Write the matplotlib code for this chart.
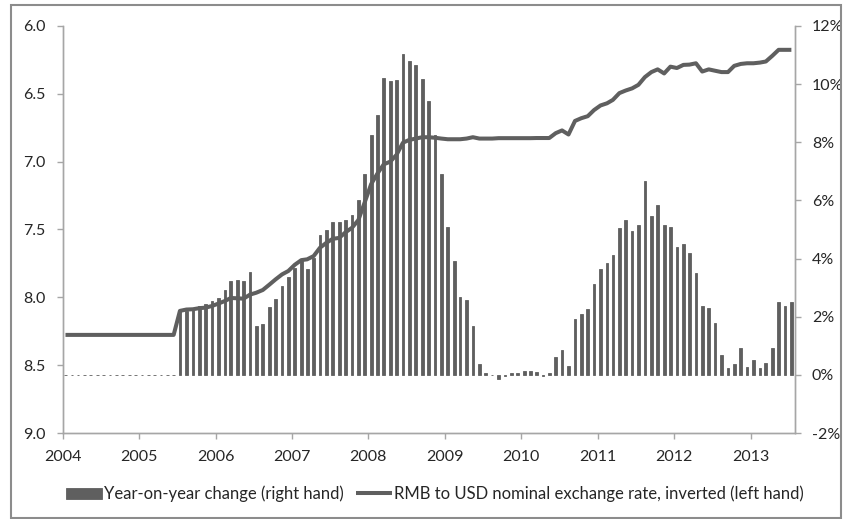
import matplotlib
matplotlib.use('Agg')
import matplotlib.pyplot as plt
import matplotlib.dates as mdates
from matplotlib.patches import Rectangle
import pandas as pd

plt.rcParams['font.family'] = ['Lato', 'DejaVu Sans']

# Monthly data, Jan 2004 - Jul 2013
months = pd.date_range('2004-01-01', '2013-07-01', freq='MS') + pd.Timedelta(days=14)

# year-on-year change (%), right hand
yoy = (
    [0.0] * 12                                                                  # 2004
    + [0.0] * 6 + [2.18, 2.21, 2.24, 2.38, 2.43, 2.53]                          # 2005
    + [2.66, 2.92, 3.23, 3.26, 3.22, 3.53, 1.69, 1.75, 2.35, 2.60, 3.04, 3.36]  # 2006
    + [3.68, 3.90, 3.63, 4.01, 4.82, 4.99, 5.27, 5.24, 5.31, 5.50, 6.00, 6.90]  # 2007
    + [8.26, 8.94, 10.20, 10.09, 10.15, 11.04, 10.78, 10.66, 10.18, 9.43, 8.26, 6.90]  # 2008
    + [5.08, 3.92, 2.69, 2.58, 1.67, 0.39, 0.08, -0.02, -0.15, -0.05, 0.08, 0.08]  # 2009
    + [0.12, 0.12, 0.10, -0.03, 0.05, 0.60, 0.85, 0.31, 1.93, 2.09, 2.28, 3.12]  # 2010
    + [3.63, 3.84, 4.13, 5.05, 5.33, 4.94, 5.14, 6.66, 5.47, 5.84, 5.17, 5.10]  # 2011
    + [4.39, 4.50, 4.18, 3.49, 2.37, 2.31, 1.78, 0.68, 0.23, 0.37, 0.94, 0.26]  # 2012
    + [0.52, 0.23, 0.40, 0.94, 2.52, 2.38, 2.49]                                # 2013
)

# RMB per USD, left hand (inverted)
rate = (
    [8.277] * 12
    + [8.277] * 6 + [8.10, 8.09, 8.088, 8.08, 8.076, 8.064]
    + [8.046, 8.027, 8.005, 8.007, 8.01, 7.98, 7.966, 7.946, 7.907, 7.868, 7.831, 7.806]
    + [7.76, 7.726, 7.72, 7.696, 7.635, 7.598, 7.569, 7.562, 7.52, 7.488, 7.43, 7.30]
    + [7.165, 7.085, 7.02, 7.0, 6.95, 6.86, 6.84, 6.83, 6.82, 6.82, 6.824, 6.83]
    + [6.835, 6.835, 6.835, 6.83, 6.82, 6.83, 6.83, 6.83, 6.827, 6.827, 6.827, 6.827]
    + [6.827, 6.827, 6.826, 6.826, 6.826, 6.79, 6.77, 6.80, 6.70, 6.68, 6.665, 6.62]
    + [6.586, 6.57, 6.545, 6.495, 6.476, 6.46, 6.434, 6.377, 6.34, 6.32, 6.35, 6.30]
    + [6.31, 6.287, 6.285, 6.275, 6.336, 6.32, 6.33, 6.34, 6.34, 6.294, 6.28, 6.275]
    + [6.275, 6.27, 6.262, 6.22, 6.176, 6.176, 6.176]
)

bar_label = 'Year-on-year change (right hand)'
line_label = 'RMB to USD nominal exchange rate, inverted (left hand)'

DARK = '#5f5f5f'
AXIS = '#a6a6a6'
TXT = '#262626'
FS = 11.5

fig = plt.figure(figsize=(8.44, 5.19), dpi=100)
ax = fig.add_axes([0.0741, 0.1657, 0.868, 0.7843])

# bars on the main axes, scale shown on the right
bars = ax.bar(months, yoy, width=13, color=DARK, edgecolor=DARK, linewidth=0.6,
              label=bar_label, zorder=2)
ax.set_ylim(-2, 12)
ax.set_yticks(range(-2, 13, 2))
ax.set_yticklabels([f'{v}%' for v in range(-2, 13, 2)])

# exchange rate line on twin axes, scale on the left
ax2 = ax.twinx()
line, = ax2.plot(months, rate, color=DARK, lw=2.9, label=line_label, zorder=3,
                 solid_capstyle='butt')
ax2.set_ylim(9.0, 6.0)
ax2.set_yticks([6.0, 6.5, 7.0, 7.5, 8.0, 8.5, 9.0])
ax2.set_yticklabels(['6.0', '6.5', '7.0', '7.5', '8.0', '8.5', '9.0'])

ax.yaxis.tick_right()
ax.yaxis.set_label_position('right')
ax2.yaxis.tick_left()
ax2.yaxis.set_label_position('left')

ax.set_xlim(pd.Timestamp('2004-01-01'), pd.Timestamp('2013-08-02'))
ax.xaxis.set_major_locator(mdates.YearLocator())
ax.xaxis.set_major_formatter(mdates.DateFormatter('%Y'))

for a in (ax, ax2):
    a.spines['top'].set_visible(False)
    for s in ('left', 'right', 'bottom'):
        a.spines[s].set_color(AXIS)
        a.spines[s].set_linewidth(1.0)
    a.tick_params(axis='both', colors=AXIS, labelcolor=TXT, labelsize=FS,
                  length=4, width=1.0, pad=8)
ax.tick_params(axis='x', pad=8)

fig.legend([bars, line], [bar_label, line_label], loc='center',
           bbox_to_anchor=(0.5154, 0.048), ncol=2, frameon=False,
           fontsize=12, handlelength=2.15, handleheight=0.72,
           columnspacing=0.7, handletextpad=0.15, labelcolor=TXT)

# outer frame
fig.patches.append(Rectangle((0.013, 0.002), 0.984, 0.988, transform=fig.transFigure,
                             fill=False, edgecolor='#8c8c8c', linewidth=1.5))

fig.savefig('out.png', dpi=100)
